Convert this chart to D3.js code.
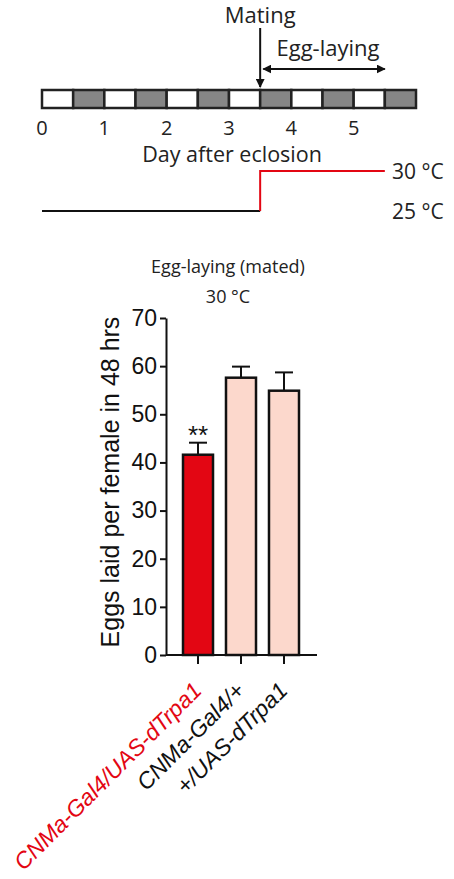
<!doctype html>
<html lang="en-US">
<head>
    <meta charset="UTF-8">
    <title>Egg-laying (mated)</title>
    <script src="https://d3js.org/d3.v7.js" charset="utf-8"></script>
    <style>
        body { margin: 0; background: #fff; }
        svg { display: block; }
        .sans { font-family: "Open Sans", "DejaVu Sans", sans-serif; }
        .arial { font-family: "Liberation Sans", Arial, sans-serif; }
    </style>
</head>
<body>
    <svg id="cvas" width="454" height="879"></svg>
    <script>
        // ---- data ---- //
        const day_ticks = [0, 1, 2, 3, 4, 5];
        const phases = ["light", "dark", "light", "dark", "light", "dark",
                        "light", "dark", "light", "dark", "light", "dark"];
        const mating_day = 3.5;
        const egg_laying_days = [3.55, 5.5];
        const temp_days = [0, 3.5, 3.5, 5.5];
        const temp_values = [25, 25, 30, 30];
        const temp_labels = [30, 25];

        const genotypes = ["CNMa-Gal4/UAS-dTrpa1", "CNMa-Gal4/+", "+/UAS-dTrpa1"];
        const means = [41.6, 57.6, 54.9];
        const sems = [2.5, 2.3, 3.8];
        const signif = ["**", "", ""];
        const y_ticks = [0, 10, 20, 30, 40, 50, 60, 70];

        const RED = "#e30613";
        const PINK = "#fcd8cc";
        const GRAY = "#868686";

        const svg = d3.select("#cvas");

        svg.append("defs").append("marker")
            .attr("id", "arrow").attr("viewBox", "0 0 10 10")
            .attr("refX", 9).attr("refY", 5)
            .attr("markerWidth", 9).attr("markerHeight", 9)
            .attr("markerUnits", "userSpaceOnUse")
            .attr("orient", "auto-start-reverse")
            .append("path").attr("d", "M0,0 L10,5 L0,10 z").attr("fill", "#111");

        // ---- timeline ---- //
        let x_day = d3.scaleLinear().domain([0, 6]).range([42, 416]);
        let bar_top = 90, bar_h = 18;

        svg.selectAll(".cell").data(phases).enter().append("rect")
            .attr("class", "cell")
            .attr("x", (d, i) => x_day(i * 0.5))
            .attr("y", bar_top)
            .attr("width", x_day(0.5) - x_day(0))
            .attr("height", bar_h)
            .style("fill", d => d == "dark" ? GRAY : "#fff")
            .style("stroke", "#222").style("stroke-width", 2.5);

        svg.selectAll(".daytick").data(day_ticks).enter().append("text")
            .attr("class", "daytick sans")
            .attr("x", d => x_day(d)).attr("y", 135)
            .attr("text-anchor", "middle")
            .style("font-size", "20px").style("fill", "#222")
            .text(d => d);

        svg.append("text").attr("class", "sans")
            .attr("x", 232).attr("y", 162).attr("text-anchor", "middle")
            .style("font-size", "21.5px").style("fill", "#222")
            .text("Day after eclosion");

        // mating arrow
        svg.append("line")
            .attr("x1", x_day(mating_day)).attr("x2", x_day(mating_day))
            .attr("y1", 28).attr("y2", 87)
            .style("stroke", "#111").style("stroke-width", 2)
            .attr("marker-end", "url(#arrow)");
        svg.append("text").attr("class", "sans")
            .attr("x", x_day(mating_day)).attr("y", 23).attr("text-anchor", "middle")
            .style("font-size", "22px").style("fill", "#222")
            .text("Mating");

        // egg-laying arrow
        svg.append("line")
            .attr("x1", x_day(egg_laying_days[0])).attr("x2", x_day(egg_laying_days[1]))
            .attr("y1", 69).attr("y2", 69)
            .style("stroke", "#111").style("stroke-width", 2)
            .attr("marker-start", "url(#arrow)")
            .attr("marker-end", "url(#arrow)");
        svg.append("text").attr("class", "sans")
            .attr("x", 328).attr("y", 56).attr("text-anchor", "middle")
            .style("font-size", "22px").style("fill", "#222")
            .text("Egg-laying");

        // temperature step
        let y_temp = d3.scaleLinear().domain([25, 30]).range([211, 171]);
        let temp_pts = temp_days.map((d, i) => [x_day(d), y_temp(temp_values[i])]);
        svg.append("path")
            .attr("d", d3.line()(temp_pts.slice(0, 2)))
            .style("fill", "none").style("stroke", "#111").style("stroke-width", 2);
        svg.append("path")
            .attr("d", d3.line()(temp_pts.slice(1)))
            .style("fill", "none").style("stroke", RED).style("stroke-width", 2);
        svg.selectAll(".templabel").data(temp_labels).enter().append("text")
            .attr("class", "templabel sans")
            .attr("x", 392).attr("y", d => y_temp(d) + 8)
            .style("font-size", "21px").style("fill", "#222")
            .text(d => d + " °C");

        // ---- bar chart ---- //
        let x_left = 166, x_right = 317;
        let y = d3.scaleLinear().domain([0, 70]).range([655, 318]);
        let x = d3.scaleBand().domain(genotypes).range([183, 299]).paddingInner(0.302).paddingOuter(0);

        svg.append("text").attr("class", "sans")
            .attr("x", 228).attr("y", 273).attr("text-anchor", "middle")
            .style("font-size", "18px").style("fill", "#222")
            .text("Egg-laying (mated)");
        svg.append("text").attr("class", "sans")
            .attr("x", 228).attr("y", 303).attr("text-anchor", "middle")
            .style("font-size", "18px").style("fill", "#222")
            .text("30 °C");

        // error bars (upper only)
        svg.selectAll(".err").data(genotypes).enter().append("line")
            .attr("x1", d => x(d) + x.bandwidth() / 2).attr("x2", d => x(d) + x.bandwidth() / 2)
            .attr("y1", (d, i) => y(means[i])).attr("y2", (d, i) => y(means[i] + sems[i]))
            .style("stroke", "#111").style("stroke-width", 2);
        svg.selectAll(".cap").data(genotypes).enter().append("line")
            .attr("x1", d => x(d) + x.bandwidth() / 2 - 9).attr("x2", d => x(d) + x.bandwidth() / 2 + 9)
            .attr("y1", (d, i) => y(means[i] + sems[i])).attr("y2", (d, i) => y(means[i] + sems[i]))
            .style("stroke", "#111").style("stroke-width", 2);

        svg.selectAll(".bar").data(genotypes).enter().append("rect")
            .attr("class", "bar")
            .attr("x", d => x(d)).attr("width", x.bandwidth())
            .attr("y", (d, i) => y(means[i]))
            .attr("height", (d, i) => y(0) - y(means[i]))
            .style("fill", (d, i) => i == 0 ? RED : PINK)
            .style("stroke", "#111").style("stroke-width", 2.5);

        svg.selectAll(".sig").data(genotypes).enter().append("text")
            .attr("class", "arial")
            .attr("x", d => x(d) + x.bandwidth() / 2)
            .attr("y", (d, i) => y(means[i] + sems[i]) + 1)
            .attr("text-anchor", "middle")
            .style("font-size", "26px").style("fill", "#111")
            .text((d, i) => signif[i]);

        // y axis
        let y_axis = svg.append("g").attr("class", "arial")
            .attr("transform", `translate(${x_left},0)`)
            .call(d3.axisLeft(y).tickValues(y_ticks).tickSize(6).tickPadding(3).tickSizeOuter(0));
        y_axis.select(".domain").style("stroke-width", 2).style("stroke", "#111");
        y_axis.selectAll(".tick line").style("stroke-width", 2).style("stroke", "#111");
        y_axis.selectAll(".tick text").style("font-size", "23px").style("fill", "#111")
            .attr("font-family", null);

        // x axis
        let x_axis = svg.append("g")
            .attr("transform", `translate(0,${y(0)})`)
            .call(d3.axisBottom(x).tickSize(9).tickSizeOuter(0).tickFormat(""));
        x_axis.select(".domain").attr("d", `M${x_left},0H${x_right}`)
            .style("stroke-width", 2).style("stroke", "#111");
        x_axis.selectAll(".tick line").style("stroke-width", 2).style("stroke", "#111");

        svg.selectAll(".xlabel").data(genotypes).enter().append("text")
            .attr("class", "xlabel arial")
            .attr("transform", d => `translate(${x(d) + x.bandwidth() / 2 + 5},${y(0) + 37}) rotate(-45)`)
            .attr("text-anchor", "end")
            .style("font-size", "23px").style("font-style", "italic")
            .style("fill", (d, i) => i == 0 ? RED : "#111")
            .text(d => d);

        svg.append("text").attr("class", "arial")
            .attr("transform", "translate(119,482) rotate(-90)")
            .attr("text-anchor", "middle")
            .style("font-size", "25px").style("fill", "#111")
            .text("Eggs laid per female in 48 hrs");
    </script>
</body>
</html>
